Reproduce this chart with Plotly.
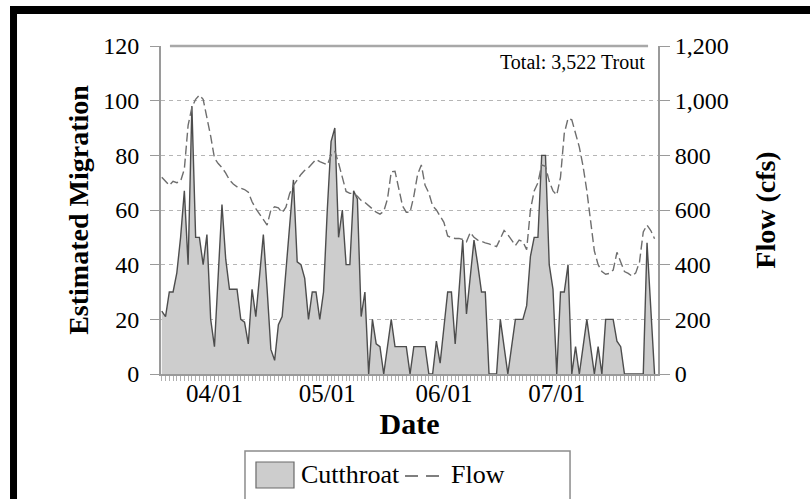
import pandas as pd
import plotly.graph_objects as go

# Daily counts and river flow, 18 March - 27 July
dates = pd.date_range("2015-03-18", periods=132, freq="D")

cutthroat = [23, 21, 30, 30, 37, 50, 67, 40, 98, 50,
             50, 40, 51, 20, 10, 36, 62, 42, 31, 31,
             31, 20, 19, 11, 31, 21, 36, 51, 31, 9,
             5, 18, 21, 38, 55, 71, 41, 40, 35, 20,
             30, 30, 20, 30, 60, 85, 90, 50, 60, 40,
             40, 67, 64, 21, 30, 0, 20, 11, 10, 0,
             10, 20, 10, 10, 10, 10, 0, 10, 10, 10,
             10, 0, 0, 12, 4, 17, 30, 30, 11, 30,
             49, 22, 35, 49, 40, 30, 30, 0, 0, 0,
             20, 10, 0, 10, 20, 20, 20, 25, 43, 50,
             50, 80, 80, 40, 31, 0, 30, 30, 40, 0,
             10, 0, 10, 20, 10, 0, 10, 0, 20, 20,
             20, 12, 10, 0, 0, 0, 0, 0, 0, 48,
             25, 0]

flow = [720, 705, 690, 705, 700, 705, 750, 910, 975, 1005,
        1020, 1005, 940, 870, 790, 770, 755, 735, 710, 695,
        685, 680, 675, 665, 630, 605, 585, 565, 545, 600,
        612, 608, 590, 610, 660, 690, 710, 730, 745, 755,
        770, 785, 777, 772, 765, 800, 815, 771, 720, 668,
        661, 661, 650, 635, 628, 615, 603, 592, 585, 595,
        640, 740, 742, 675, 615, 592, 592, 650, 730, 765,
        690, 662, 615, 600, 575, 555, 505, 498, 496, 496,
        492, 484, 518, 500, 490, 484, 480, 476, 470, 466,
        495, 525, 510, 490, 470, 490, 484, 455, 600, 670,
        700, 765, 760, 705, 670, 655, 720, 880, 935, 930,
        880, 830, 760, 670, 560, 450, 400, 375, 365, 368,
        380, 445, 410, 375, 368, 358, 370, 410, 520, 545,
        525, 495]

left_ticks = [0, 20, 40, 60, 80, 100, 120]
right_ticks = [0, 200, 400, 600, 800, 1000, 1200]
month_ticks = ["2015-04-01", "2015-05-01", "2015-06-01", "2015-07-01"]
month_labels = ["04/01", "05/01", "06/01", "07/01"]
series_names = ["Cutthroat", "Flow"]
total_label = "Total: 3,522 Trout"

SERIF = "Liberation Serif"
AXIS_GREY = "#9a9a9a"
FILL_GREY = "#cdcdcd"
EDGE_GREY = "#4d4d4d"
FLOW_GREY = "#6e6e6e"

fig = go.Figure()

fig.add_trace(go.Scatter(
    x=dates, y=cutthroat, name=series_names[0],
    mode="lines", fill="tozeroy",
    fillcolor=FILL_GREY,
    line=dict(color=EDGE_GREY, width=1.4),
    yaxis="y", showlegend=False,
))

fig.add_trace(go.Scatter(
    x=dates, y=flow, name=series_names[1],
    mode="lines",
    line=dict(color=FLOW_GREY, width=1.4, dash="9px,4px"),
    yaxis="y2", showlegend=False,
))

fig.update_layout(
    width=810, height=499,
    margin=dict(l=161, r=152, t=46, b=125, autoexpand=False),
    paper_bgcolor="white",
    plot_bgcolor="white",
    font=dict(family=SERIF, color="black"),
    xaxis=dict(
        type="date",
        range=["2015-03-17 19:00", "2015-07-27 22:00"],
        tickmode="array",
        tickvals=month_ticks,
        ticktext=month_labels,
        ticks="outside", ticklen=5, tickwidth=1, tickcolor=AXIS_GREY,
        ticklabelstandoff=-9,
        tickfont=dict(family=SERIF, size=25, color="black"),
        minor=dict(dtick=86400000, ticks="outside", ticklen=5,
                   tickwidth=1, tickcolor="#b0b0b0", showgrid=False),
        showline=True, linecolor=AXIS_GREY, linewidth=1.5,
        showgrid=False, zeroline=False,
        title=dict(text="Date", standoff=0,
                   font=dict(family=SERIF, size=30, color="black", weight="bold")),
    ),
    yaxis=dict(
        range=[0, 120],
        tickmode="array", tickvals=left_ticks,
        ticks="outside", ticklen=9, tickcolor=AXIS_GREY,
        ticklabelstandoff=6,
        tickfont=dict(family=SERIF, size=24, color="black"),
        showline=True, linecolor=AXIS_GREY, linewidth=2,
        showgrid=True, gridcolor="#b5b5b5", gridwidth=1, griddash="4px,4px",
        zeroline=False,
        title=dict(text="Estimated Migration", standoff=6,
                   font=dict(family=SERIF, size=28, color="black", weight="bold")),
    ),
    yaxis2=dict(
        range=[0, 1200], overlaying="y", side="right",
        tickmode="array", tickvals=right_ticks, tickformat=",d",
        ticks="outside", ticklen=10, tickcolor=AXIS_GREY,
        tickfont=dict(family=SERIF, size=24, color="black"),
        showline=True, linecolor=AXIS_GREY, linewidth=2,
        showgrid=False, zeroline=False,
        title=dict(text="Flow (cfs)", standoff=28,
                   font=dict(family=SERIF, size=28, color="black", weight="bold")),
    ),
)

# solid rule along the top of the plotting area
fig.add_shape(type="line", xref="paper", yref="paper",
              x0=0.018, x1=0.98, y0=1, y1=1,
              line=dict(color="#a8a8a8", width=2.5))

# black frame along the top and left edges of the figure
fig.add_shape(type="rect", xref="paper", yref="paper",
              x0=-0.3038, x1=1.33, y0=1.0976, y1=1.122,
              fillcolor="black", line=dict(width=0))
fig.add_shape(type="rect", xref="paper", yref="paper",
              x0=-0.3038, x1=-0.2897, y0=-0.4, y1=1.122,
              fillcolor="black", line=dict(width=0))

fig.add_annotation(
    text=total_label, xref="paper", yref="paper",
    x=0.978, y=0.951, xanchor="right", yanchor="middle",
    showarrow=False,
    font=dict(family=SERIF, size=20, color="black"),
)

# key below the axis: boxed swatch for the area and a dashed sample for flow
fig.add_shape(type="rect", xref="paper", yref="paper",
              x0=0.169, x1=0.823, y0=-0.45, y1=-0.2348,
              fillcolor="white", line=dict(color="#8c8c8c", width=1.5))
fig.add_shape(type="rect", xref="paper", yref="paper",
              x0=0.1911, x1=0.2676, y0=-0.3476, y1=-0.2683,
              fillcolor=FILL_GREY, line=dict(color="#6a6a6a", width=1.2))
fig.add_annotation(
    text=series_names[0], xref="paper", yref="paper",
    x=0.2777, y=-0.3079, xanchor="left", yanchor="middle",
    showarrow=False,
    font=dict(family=SERIF, size=26, color="black"),
)
fig.add_shape(type="line", xref="paper", yref="paper",
              x0=0.491, x1=0.5674, y0=-0.311, y1=-0.311,
              line=dict(color="#555555", width=1.4, dash="13px,8px"))
fig.add_annotation(
    text=series_names[1], xref="paper", yref="paper",
    x=0.5795, y=-0.3079, xanchor="left", yanchor="middle",
    showarrow=False,
    font=dict(family=SERIF, size=26, color="black"),
)

fig.write_html("out.html")
